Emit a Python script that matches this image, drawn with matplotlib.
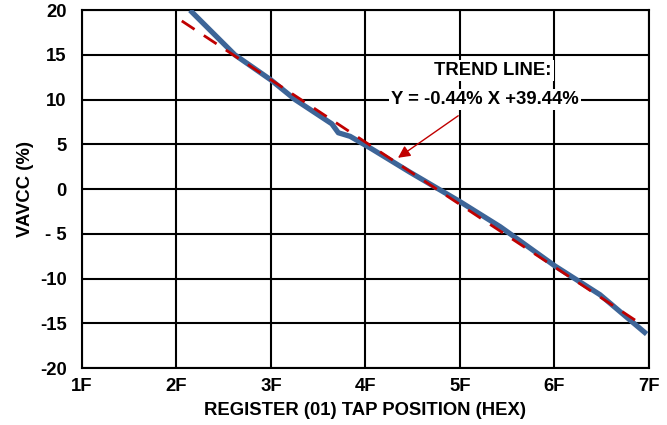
import matplotlib
matplotlib.use("Agg")
import matplotlib.pyplot as plt

plt.rcParams['font.family'] = ['Liberation Sans', 'DejaVu Sans']
plt.rcParams['font.weight'] = 'bold'

# Measured VAVCC (%) versus register tap position (decimal value of hex code)
tap_position = [49.3, 56.9, 63.0, 67.1, 73.3, 74.4, 76.4, 79.8, 86.5, 95.0,
                101.8, 103.5, 111.1, 118.7, 126.6]
vavcc_pct = [20.0, 15.0, 12.2, 10.0, 7.3, 6.3, 5.9, 4.6, 1.9, -1.4,
             -4.2, -5.0, -8.6, -11.8, -16.2]

# Fitted trend line end points
trend_x = [47.9, 125.7]
trend_y = [18.8, -15.1]
trend_label = "Y = -0.44% X +39.44%"

x_ticks = [0x1F, 0x2F, 0x3F, 0x4F, 0x5F, 0x6F, 0x7F]
x_tick_labels = ["1F", "2F", "3F", "4F", "5F", "6F", "7F"]
y_ticks = [-20, -15, -10, -5, 0, 5, 10, 15, 20]
y_tick_labels = ["-20", "-15", "-10", "- 5", "0", "5", "10", "15", "20"]

FS = 13.3

fig = plt.figure(figsize=(6.67, 4.25), dpi=100)
ax = fig.add_axes([0.1229, 0.134, 0.8501, 0.842])

ax.set_xlim(x_ticks[0], x_ticks[-1])
ax.set_ylim(y_ticks[0], y_ticks[-1])
ax.set_xticks(x_ticks)
ax.set_xticklabels(x_tick_labels)
ax.set_yticks(y_ticks)
ax.set_yticklabels(y_tick_labels)
ax.tick_params(axis='both', length=0, labelsize=FS)
ax.tick_params(axis='x', pad=7)
ax.tick_params(axis='y', pad=11)
for lbl in ax.get_xticklabels() + ax.get_yticklabels():
    lbl.set_fontweight('bold')

ax.grid(True, color='black', linewidth=1.5, zorder=1)
ax.set_axisbelow(True)
for sp in ax.spines.values():
    sp.set_linewidth(1.5)
    sp.set_color('black')

# Measured curve
ax.plot(tap_position, vavcc_pct, color='#3D6598', linewidth=3.8,
        solid_capstyle='butt', zorder=3)

# Trend line
ax.plot(trend_x, trend_y, color='#C00000', linewidth=2.0,
        dashes=(5.5, 4), zorder=4)

ax.set_xlabel("REGISTER (01) TAP POSITION (HEX)", fontsize=FS,
              fontweight='bold', labelpad=5)
ax.set_ylabel("VAVCC (%)", fontsize=FS, fontweight='bold', labelpad=4)

box = dict(facecolor='white', edgecolor='none', pad=1.5)
ax.text(100.6, 13.3, "TREND LINE:", ha='center', va='center', fontsize=FS,
        fontweight='bold', bbox=box, zorder=5)
ax.text(99.2, 10.0, trend_label, ha='center', va='center',
        fontsize=FS, fontweight='bold', bbox=box, zorder=5)

ax.annotate("", xy=(84.5, 3.5), xytext=(94.7, 8.2),
            arrowprops=dict(arrowstyle='-|>', color='#C00000', lw=1.0,
                            mutation_scale=18, shrinkA=0, shrinkB=0),
            zorder=6)

fig.savefig("out.png", dpi=100)
